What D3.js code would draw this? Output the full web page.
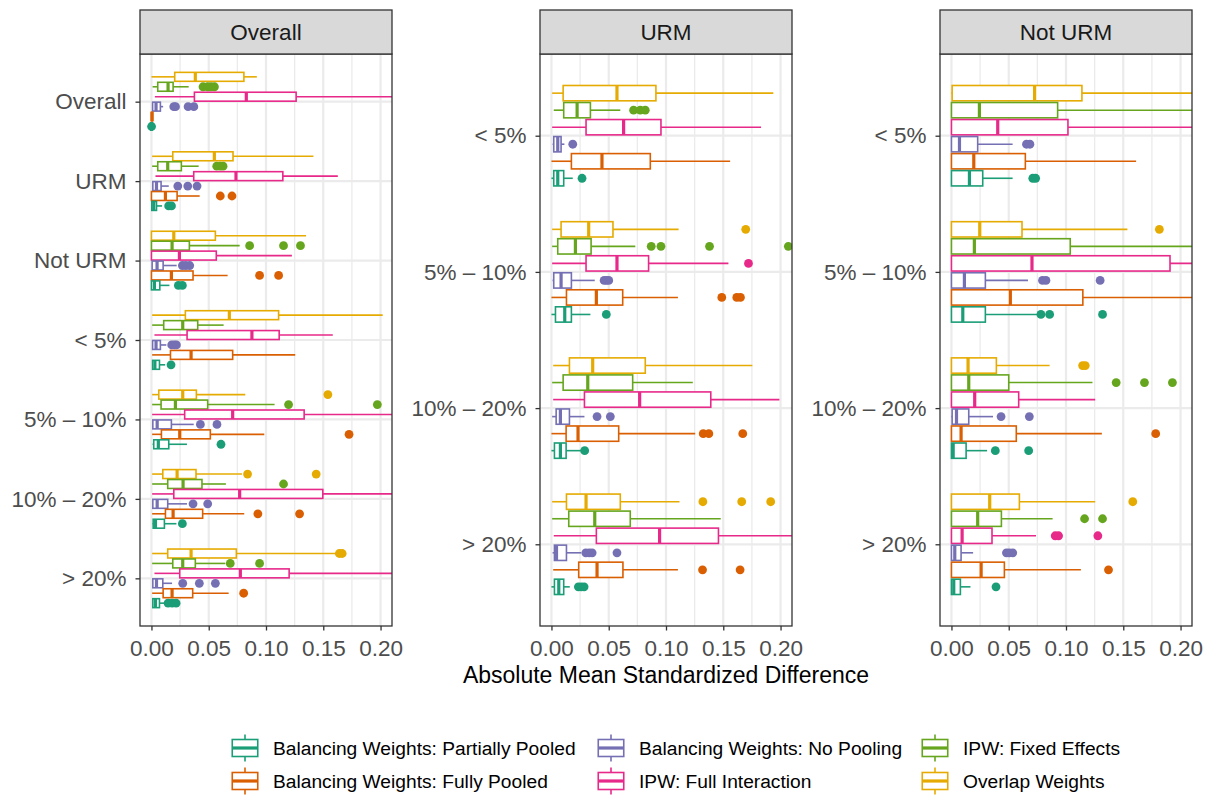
<!DOCTYPE html>
<html>
<head>
<meta charset="utf-8">
<script src="https://cdn.jsdelivr.net/npm/d3@7"></script>
<style>
body { margin: 0; background: #fff; }
text { font-family: "Liberation Sans", Arial, sans-serif; }
</style>
</head>
<body>
<svg id="chart" width="1215" height="798"></svg>
<script>
// methods, bottom-to-top order inside a group (same as legend order)
const methods = ["PP", "FP", "NP", "FI", "FE", "OW"];
const methodLabels = ["Balancing Weights: Partially Pooled", "Balancing Weights: Fully Pooled",
                      "Balancing Weights: No Pooling", "IPW: Full Interaction",
                      "IPW: Fixed Effects", "Overlap Weights"];
const methodColors = ["#1B9E77", "#D95F02", "#7570B3", "#E7298A", "#66A61E", "#E6AB02"];
const facets = ["Overall", "URM", "Not URM"];
const groupsOverall = ["Overall", "URM", "Not URM", "< 5%", "5% – 10%", "10% – 20%", "> 20%"];
const groupsSub = ["< 5%", "5% – 10%", "10% – 20%", "> 20%"];
const xTicks = [0, 0.05, 0.10, 0.15, 0.20];
const xMinor = [0.025, 0.075, 0.125, 0.175];

// [group, method, whisker lo, q1, median, q3, whisker hi, outliers]
const statsOverall = [
    ["Overall", "OW", 0, 0.0203, 0.0383, 0.0807, 0.092, []],
    ["Overall", "FE", 0.001, 0.0055, 0.0145, 0.0189, 0.0325, [0.045, 0.049, 0.052, 0.055]],
    ["Overall", "FI", 0.003, 0.0375, 0.0828, 0.1263, 0.25, []],
    ["Overall", "NP", 0.001, 0.001, 0.004, 0.0078, 0.0102, [0.0195, 0.021, 0.032, 0.037]],
    ["Overall", "FP", 0, 0, 0.0005, 0.001, 0.001, []],
    ["Overall", "PP", 0, 0, 0, 0, 0, [0.0001]],
    ["URM", "OW", 0.0006, 0.0186, 0.0549, 0.0712, 0.1414, []],
    ["URM", "FE", 0.0006, 0.0055, 0.0142, 0.0261, 0.0412, [0.057, 0.06, 0.0625]],
    ["URM", "FI", 0.0035, 0.0369, 0.0738, 0.1147, 0.1627, []],
    ["URM", "NP", 0.001, 0.0012, 0.0044, 0.0084, 0.0151, [0.023, 0.0317, 0.0398]],
    ["URM", "FP", 0, 0, 0.0122, 0.0224, 0.0421, [0.0601, 0.0703]],
    ["URM", "PP", 0, 0.0003, 0.002, 0.0044, 0.0093, [0.015, 0.0175]],
    ["Not URM", "OW", 0, 0, 0.0195, 0.0558, 0.135, []],
    ["Not URM", "FE", 0, 0, 0.018, 0.0331, 0.077, [0.0857, 0.1153, 0.1301]],
    ["Not URM", "FI", 0, 0, 0.0244, 0.0566, 0.1226, []],
    ["Not URM", "NP", 0.0006, 0.0006, 0.0049, 0.0102, 0.022, [0.027, 0.03, 0.0334]],
    ["Not URM", "FP", 0, 0, 0.0174, 0.0363, 0.0665, [0.0944, 0.111]],
    ["Not URM", "PP", 0, 0, 0.0026, 0.0073, 0.0157, [0.0235, 0.027]],
    ["< 5%", "OW", 0.0006, 0.0296, 0.068, 0.111, 0.2019, []],
    ["< 5%", "FE", 0.0006, 0.0107, 0.0273, 0.0404, 0.063, []],
    ["< 5%", "FI", 0.0026, 0.0311, 0.0877, 0.1115, 0.1583, []],
    ["< 5%", "NP", 0.001, 0.001, 0.004, 0.0078, 0.013, [0.0177, 0.02, 0.0218]],
    ["< 5%", "FP", 0.0006, 0.0166, 0.0346, 0.0709, 0.1255, []],
    ["< 5%", "PP", 0.001, 0.001, 0.003, 0.007, 0.012, [0.0171]],
    ["5% – 10%", "OW", 0.0006, 0.0064, 0.0273, 0.0392, 0.0819, [0.154]],
    ["5% – 10%", "FE", 0.0006, 0.0084, 0.0209, 0.0491, 0.1075, [0.1197, 0.1972]],
    ["5% – 10%", "FI", 0.0006, 0.029, 0.0709, 0.1333, 0.25, []],
    ["5% – 10%", "NP", 0.001, 0.0012, 0.005, 0.0174, 0.0369, [0.0427, 0.0572]],
    ["5% – 10%", "FP", 0.0006, 0.0087, 0.0247, 0.0514, 0.0985, [0.1725]],
    ["5% – 10%", "PP", 0.001, 0.002, 0.006, 0.0151, 0.031, [0.0607]],
    ["10% – 20%", "OW", 0.0006, 0.0099, 0.0224, 0.0389, 0.079, [0.0839, 0.1438]],
    ["10% – 20%", "FE", 0.0006, 0.0142, 0.0276, 0.0441, 0.065, [0.1153]],
    ["10% – 20%", "FI", 0.0006, 0.0195, 0.077, 0.1496, 0.25, []],
    ["10% – 20%", "NP", 0.001, 0.0012, 0.005, 0.0142, 0.031, [0.0363, 0.0491]],
    ["10% – 20%", "FP", 0.0006, 0.0122, 0.0189, 0.0447, 0.081, [0.0929, 0.1293]],
    ["10% – 20%", "PP", 0.001, 0.0015, 0.0035, 0.0113, 0.0218, [0.027]],
    ["> 20%", "OW", 0.0006, 0.0142, 0.0346, 0.0741, 0.1618, [0.164, 0.1665]],
    ["> 20%", "FE", 0.0006, 0.0186, 0.0273, 0.0383, 0.0645, [0.0688, 0.0944]],
    ["> 20%", "FI", 0.0026, 0.0247, 0.0776, 0.1202, 0.25, []],
    ["> 20%", "NP", 0.001, 0.0012, 0.0044, 0.0099, 0.018, [0.0273, 0.0418, 0.0558]],
    ["> 20%", "FP", 0.0006, 0.0102, 0.018, 0.036, 0.0674, [0.0805]],
    ["> 20%", "PP", 0.001, 0.0012, 0.0035, 0.007, 0.0122, [0.0145, 0.018, 0.0215]]
];
const statsURM = [
    ["< 5%", "OW", 0.0006, 0.0102, 0.0572, 0.0912, 0.1937, []],
    ["< 5%", "FE", 0.002, 0.0107, 0.0224, 0.034, 0.0601, [0.0717, 0.0775, 0.0819]],
    ["< 5%", "FI", 0.0006, 0.0302, 0.063, 0.0956, 0.183, []],
    ["< 5%", "NP", 0.001, 0.002, 0.0055, 0.0084, 0.0113, [0.0186]],
    ["< 5%", "FP", 0, 0.0174, 0.0441, 0.0863, 0.156, []],
    ["< 5%", "PP", 0, 0.002, 0.0055, 0.0107, 0.0186, [0.0267]],
    ["5% – 10%", "OW", 0.0006, 0.0084, 0.0325, 0.0537, 0.111, [0.1696]],
    ["5% – 10%", "FE", 0.0006, 0.0055, 0.0209, 0.0346, 0.0732, [0.0871, 0.0956, 0.138, 0.2068]],
    ["5% – 10%", "FI", 0.0006, 0.0302, 0.0572, 0.0848, 0.1545, [0.172]],
    ["5% – 10%", "NP", 0.001, 0.002, 0.0084, 0.0174, 0.0378, [0.046, 0.048, 0.05]],
    ["5% – 10%", "FP", 0, 0.0131, 0.0392, 0.0622, 0.1104, [0.1487, 0.1618, 0.165]],
    ["5% – 10%", "PP", 0, 0.0035, 0.0116, 0.0174, 0.034, [0.0479]],
    ["10% – 20%", "OW", 0.0015, 0.0157, 0.036, 0.0819, 0.1754, []],
    ["10% – 20%", "FE", 0.0006, 0.0102, 0.0317, 0.0709, 0.1234, []],
    ["10% – 20%", "FI", 0.0015, 0.0288, 0.077, 0.1391, 0.199, []],
    ["10% – 20%", "NP", 0.0006, 0.0041, 0.0078, 0.0157, 0.0288, [0.0398, 0.0514]],
    ["10% – 20%", "FP", 0, 0.0128, 0.0232, 0.0587, 0.1255, [0.1325, 0.1374, 0.167]],
    ["10% – 20%", "PP", 0, 0.0026, 0.0078, 0.0128, 0.026, [0.029]],
    ["> 20%", "OW", 0.0006, 0.0131, 0.0302, 0.0601, 0.1118, [0.1322, 0.1661, 0.1914]],
    ["> 20%", "FE", 0.0006, 0.0151, 0.0378, 0.0688, 0.1478, []],
    ["> 20%", "FI", 0.002, 0.0392, 0.0944, 0.1458, 0.25, []],
    ["> 20%", "NP", 0.001, 0.0026, 0.0044, 0.0131, 0.026, [0.03, 0.033, 0.0355, 0.0572]],
    ["> 20%", "FP", 0.0015, 0.0238, 0.0398, 0.0624, 0.1104, [0.1319, 0.1647]],
    ["> 20%", "PP", 0, 0.0026, 0.0064, 0.0107, 0.016, [0.0235, 0.026, 0.0285]]
];
const statsNotURM = [
    ["< 5%", "OW", 0, 0.0006, 0.0726, 0.1139, 0.25, []],
    ["< 5%", "FE", 0, 0, 0.0244, 0.0927, 0.25, []],
    ["< 5%", "FI", 0, 0, 0.0404, 0.1017, 0.25, []],
    ["< 5%", "NP", 0, 0, 0.007, 0.0229, 0.0534, [0.0655, 0.0685]],
    ["< 5%", "FP", 0, 0, 0.0195, 0.0645, 0.1612, []],
    ["< 5%", "PP", 0, 0, 0.0157, 0.0273, 0.0534, [0.071, 0.0735]],
    ["5% – 10%", "OW", 0, 0, 0.0247, 0.0616, 0.1536, [0.1815]],
    ["5% – 10%", "FE", 0, 0, 0.02, 0.1037, 0.25, []],
    ["5% – 10%", "FI", 0, 0, 0.0703, 0.1908, 0.25, []],
    ["5% – 10%", "NP", 0, 0, 0.0113, 0.0296, 0.0668, [0.0795, 0.0825, 0.1298]],
    ["5% – 10%", "FP", 0, 0, 0.0514, 0.1147, 0.25, []],
    ["5% – 10%", "PP", 0, 0, 0.0099, 0.0296, 0.0755, [0.0781, 0.0857, 0.1319]],
    ["10% – 20%", "OW", 0, 0, 0.0145, 0.0392, 0.0857, [0.1145, 0.1168]],
    ["10% – 20%", "FE", 0, 0, 0.0151, 0.05, 0.1231, [0.1438, 0.1685, 0.1929]],
    ["10% – 20%", "FI", 0, 0, 0.0203, 0.0587, 0.1255, []],
    ["10% – 20%", "NP", 0, 0.0006, 0.0044, 0.0151, 0.0363, [0.0433, 0.068]],
    ["10% – 20%", "FP", 0, 0, 0.0084, 0.0566, 0.1313, [0.1783]],
    ["10% – 20%", "PP", 0, 0, 0.0015, 0.0128, 0.0311, [0.0383, 0.0674]],
    ["> 20%", "OW", 0, 0, 0.0334, 0.0593, 0.1255, [0.1583]],
    ["> 20%", "FE", 0, 0, 0.0229, 0.0436, 0.0883, [0.1162, 0.1319]],
    ["> 20%", "FI", 0, 0, 0.0093, 0.0354, 0.0738, [0.0906, 0.0935, 0.1278]],
    ["> 20%", "NP", 0, 0, 0.0029, 0.0084, 0.0189, [0.048, 0.0505, 0.0535]],
    ["> 20%", "FP", 0, 0, 0.0259, 0.0462, 0.113, [0.1371]],
    ["> 20%", "PP", 0, 0, 0.002, 0.0078, 0.0166, [0.0389]]
];

// layout
const panelX = [140, 540, 940], panelW = 252;
const stripTop = 10, panelTop = 54, panelBot = 626;
const xDomain = [-0.01, 0.21];
const fsAxis = 22.5;  // axis text + strip text
const fsLegend = 19.2;

const svg = d3.select("#chart");
const defs = svg.append("defs");
const facetStats = [statsOverall, statsURM, statsNotURM];
const colorOf = d3.scaleOrdinal().domain(methods).range(methodColors);

facets.forEach((f, i) => draw_panel(i));
draw_legend();

// axis title
svg.append("text").attr("x", 666).attr("y", 683)
    .attr("text-anchor", "middle").attr("font-size", 23).attr("fill", "#000")
    .text("Absolute Mean Standardized Difference");

function draw_panel(i) {
    const cats = i === 0 ? groupsOverall : groupsSub;
    const rows = facetStats[i];
    const x0 = panelX[i];
    const x = d3.scaleLinear().domain(xDomain).range([x0, x0 + panelW]);
    const y = d3.scalePoint().domain(cats).range([panelTop, panelBot]).padding(0.6);
    const half = 0.375 * y.step();
    const dodge = d3.scaleBand().domain(methods.slice().reverse()) // top = OW
        .range([-half, half]).paddingInner(0.1).paddingOuter(0.05);
    const bw = dodge.bandwidth();
    const cy = r => y(r[0]) + dodge(r[1]) + bw / 2;

    const g = svg.append("g");
    // panel background + grid
    g.append("rect").attr("x", x0).attr("y", panelTop).attr("width", panelW)
        .attr("height", panelBot - panelTop).attr("fill", "#fff");
    g.selectAll(".minor").data(xMinor).join("line").classed("minor", true)
        .attr("x1", d => x(d)).attr("x2", d => x(d))
        .attr("y1", panelTop).attr("y2", panelBot)
        .attr("style", "stroke:#EBEBEB; stroke-width:1.3");
    g.selectAll(".major").data(xTicks).join("line").classed("major", true)
        .attr("x1", d => x(d)).attr("x2", d => x(d))
        .attr("y1", panelTop).attr("y2", panelBot)
        .attr("style", "stroke:#EBEBEB; stroke-width:2.2");
    g.selectAll(".hgrid").data(cats).join("line").classed("hgrid", true)
        .attr("x1", x0).attr("x2", x0 + panelW)
        .attr("y1", d => y(d)).attr("y2", d => y(d))
        .attr("style", "stroke:#EBEBEB; stroke-width:2.2");

    // clip to panel (coord_cartesian)
    defs.append("clipPath").attr("id", "clip" + i).append("rect")
        .attr("x", x0).attr("y", panelTop).attr("width", panelW).attr("height", panelBot - panelTop);
    const plot = g.append("g").attr("clip-path", "url(#clip" + i + ")");

    const box = plot.selectAll(".box").data(rows).join("g").classed("box", true);
    box.append("line") // lower whisker
        .attr("x1", r => x(r[2])).attr("x2", r => x(r[3]))
        .attr("y1", cy).attr("y2", cy)
        .attr("stroke", r => colorOf(r[1])).attr("stroke-width", 1.6);
    box.append("line") // upper whisker
        .attr("x1", r => x(r[5])).attr("x2", r => x(r[6]))
        .attr("y1", cy).attr("y2", cy)
        .attr("stroke", r => colorOf(r[1])).attr("stroke-width", 1.6);
    box.append("rect")
        .attr("x", r => x(r[3])).attr("y", r => cy(r) - bw / 2)
        .attr("width", r => x(r[5]) - x(r[3])).attr("height", bw)
        .attr("fill", "#fff").attr("stroke", r => colorOf(r[1])).attr("stroke-width", 1.6);
    box.append("line") // median
        .attr("x1", r => x(r[4])).attr("x2", r => x(r[4]))
        .attr("y1", r => cy(r) - bw / 2).attr("y2", r => cy(r) + bw / 2)
        .attr("stroke", r => colorOf(r[1])).attr("stroke-width", 3.2);
    box.selectAll(".out").data(r => r[7].map(v => ({ v: v, r: r }))).join("circle")
        .classed("out", true)
        .attr("cx", d => x(d.v)).attr("cy", d => cy(d.r)).attr("r", 4.4)
        .attr("fill", d => colorOf(d.r[1]));

    // border
    g.append("rect").attr("x", x0).attr("y", panelTop).attr("width", panelW)
        .attr("height", panelBot - panelTop)
        .attr("style", "fill:none; stroke:#333333; stroke-width:1.3");

    // strip
    g.append("rect").attr("x", x0).attr("y", stripTop).attr("width", panelW)
        .attr("height", panelTop - stripTop)
        .attr("style", "fill:#D9D9D9; stroke:#333333; stroke-width:1.3");
    g.append("text").attr("x", x0 + panelW / 2).attr("y", (stripTop + panelTop) / 2)
        .attr("dy", "0.36em").attr("text-anchor", "middle")
        .attr("font-size", fsAxis).attr("fill", "#1A1A1A").text(facets[i]);

    // axes
    const ax = g.append("g").attr("transform", "translate(0," + panelBot + ")")
        .call(d3.axisBottom(x).tickValues(xTicks).tickFormat(d3.format(".2f"))
            .tickSize(4.5).tickPadding(10));
    const ay = g.append("g").attr("transform", "translate(" + x0 + ",0)")
        .call(d3.axisLeft(y).tickSize(4.5).tickPadding(9));
    [ax, ay].forEach(a => {
        a.select(".domain").remove();
        a.selectAll(".tick line").attr("stroke", "#333333").attr("stroke-width", 1.3);
        a.selectAll(".tick text").attr("font-size", fsAxis).attr("fill", "#4D4D4D")
            .attr("font-family", "Liberation Sans, Arial, sans-serif");
    });
}

function draw_legend() {
    const keyX = [228, 594, 918], rowY = [748, 781];
    const kw = 34, kh = 34;
    const lg = svg.append("g");
    const item = lg.selectAll(".key").data(methods).join("g").classed("key", true)
        .attr("transform", (m, k) => "translate(" + keyX[Math.floor(k / 2)] + "," + (rowY[k % 2] - kh / 2) + ")");
    // vertical key glyph (boxplot key under coord_flip)
    item.append("line").attr("x1", kw / 2).attr("x2", kw / 2).attr("y1", 0.1 * kh).attr("y2", 0.25 * kh)
        .attr("stroke", m => colorOf(m)).attr("stroke-width", 1.6);
    item.append("line").attr("x1", kw / 2).attr("x2", kw / 2).attr("y1", 0.75 * kh).attr("y2", 0.9 * kh)
        .attr("stroke", m => colorOf(m)).attr("stroke-width", 1.6);
    item.append("rect").attr("x", 0.125 * kw).attr("y", 0.25 * kh).attr("width", 0.75 * kw).attr("height", 0.5 * kh)
        .attr("fill", "#fff").attr("stroke", m => colorOf(m)).attr("stroke-width", 1.6);
    item.append("line").attr("x1", 0.125 * kw).attr("x2", 0.875 * kw).attr("y1", kh / 2).attr("y2", kh / 2)
        .attr("stroke", m => colorOf(m)).attr("stroke-width", 3.2);
    item.append("text").attr("x", 45).attr("y", kh / 2).attr("dy", "0.35em")
        .attr("font-size", fsLegend).attr("fill", "#000")
        .text((m, k) => methodLabels[k]);
}
</script>
</body>
</html>
